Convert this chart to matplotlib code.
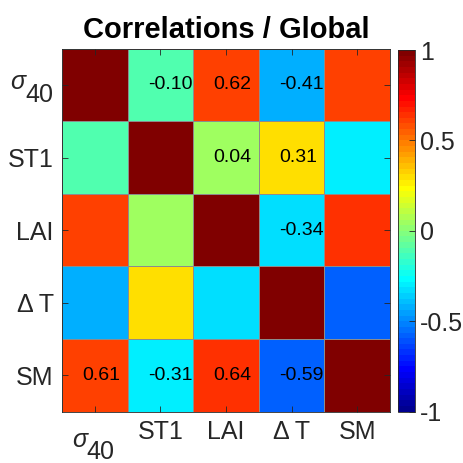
import numpy as np
import matplotlib
matplotlib.use('Agg')
import matplotlib.pyplot as plt
from matplotlib.colors import ListedColormap

plt.rcParams['font.family'] = ['Liberation Sans', 'DejaVu Sans']
plt.rcParams['mathtext.fontset'] = 'custom'
plt.rcParams['mathtext.rm'] = 'Liberation Sans'
plt.rcParams['mathtext.it'] = 'Liberation Sans:italic'

etiquetas = ['', 'ST1', 'LAI', 'Δ T', 'SM']   # la primera (sigma_40) se escribe aparte

correlaciones = np.array([
    [1.00, -0.10, 0.62, -0.41, 0.61],
    [-0.10, 1.00, 0.04, 0.31, -0.31],
    [0.62, 0.04, 1.00, -0.34, 0.64],
    [-0.41, 0.31, -0.34, 1.00, -0.59],
    [0.61, -0.31, 0.64, -0.59, 1.00],
])

# celdas con numero escrito
mostrar = np.array([
    [0, 1, 1, 1, 0],
    [0, 0, 1, 1, 0],
    [0, 0, 0, 1, 0],
    [0, 0, 0, 0, 0],
    [1, 1, 1, 1, 0],
], dtype=bool)


def jet_matlab(m=64):
    # mismo calculo que jet(m) de MATLAB
    n = int(np.ceil(m / 4.0))
    u = np.concatenate([np.arange(1, n + 1) / n, np.ones(n - 1), np.arange(n, 0, -1) / n])
    g = int(np.ceil(n / 2.0)) - (1 if m % 4 == 1 else 0) + np.arange(1, len(u) + 1)
    r = g + n
    b = g - n
    J = np.zeros((m, 3))
    for col, idx in ((0, r), (1, g), (2, b)):
        ok = (idx >= 1) & (idx <= m)
        J[idx[ok] - 1, col] = u[ok]
    return ListedColormap(J)


gris = (0.15, 0.15, 0.15)

fig = plt.figure(figsize=(4.64, 4.63), dpi=100)
ax = fig.add_axes([0.1336, 0.111, 0.707, 0.784])
cax = fig.add_axes([0.857, 0.111, 0.038, 0.781])

n = len(etiquetas)
im = ax.pcolormesh(np.arange(n + 1) - 0.5, np.arange(n + 1) - 0.5, correlaciones,
                   cmap=jet_matlab(64), vmin=-1, vmax=1,
                   edgecolors=(0.55, 0.55, 0.55), linewidth=0.4)
ax.set_xlim(-0.5, n - 0.5)
ax.set_ylim(n - 0.5, -0.5)

for i in range(n):
    for j in range(n):
        if mostrar[i, j]:
            ax.text(j - 0.19, i, '%.2f' % correlaciones[i, j], ha='left', va='center',
                    fontsize=14, color='k')

ax.set_xticks(range(n))
ax.set_yticks(range(n))
ax.set_xticklabels(etiquetas)
ax.set_yticklabels(etiquetas)
ax.tick_params(direction='in', length=4, width=0.6, colors=gris, labelsize=18,
               top=True, right=True, pad=6)
for s in ax.spines.values():
    s.set_color(gris)
    s.set_linewidth(0.6)

# sigma_40 con subindice grande, como en el original
ax.annotate(r'$\sigma$', xy=(0, 0), xycoords=('axes fraction', 'data'),
            xytext=(-24.5, 2.2), textcoords='offset points',
            ha='right', va='center', fontsize=18, color=gris, annotation_clip=False)
ax.annotate('40', xy=(0, 0), xycoords=('axes fraction', 'data'),
            xytext=(-6.5, -7.2), textcoords='offset points',
            ha='right', va='center', fontsize=18, color=gris, annotation_clip=False)
ax.annotate(r'$\sigma$', xy=(0, 0), xycoords=('data', 'axes fraction'),
            xytext=(-9.7, -20.4), textcoords='offset points',
            ha='center', va='center', fontsize=18, color=gris, annotation_clip=False)
ax.annotate('40', xy=(0, 0), xycoords=('data', 'axes fraction'),
            xytext=(4, -29.3), textcoords='offset points',
            ha='center', va='center', fontsize=18, color=gris, annotation_clip=False)

ax.set_title('Correlations / Global', fontsize=21, fontweight='bold', pad=8)

cb = fig.colorbar(im, cax=cax, ticks=[-1, -0.5, 0, 0.5, 1])
cb.ax.set_yticklabels(['-1', '-0.5', '0', '0.5', '1'])
cb.ax.tick_params(direction='in', length=4, width=0.6, colors=gris, labelsize=18)
cb.outline.set_edgecolor(gris)
cb.outline.set_linewidth(0.6)

fig.savefig('out.png', dpi=100)
